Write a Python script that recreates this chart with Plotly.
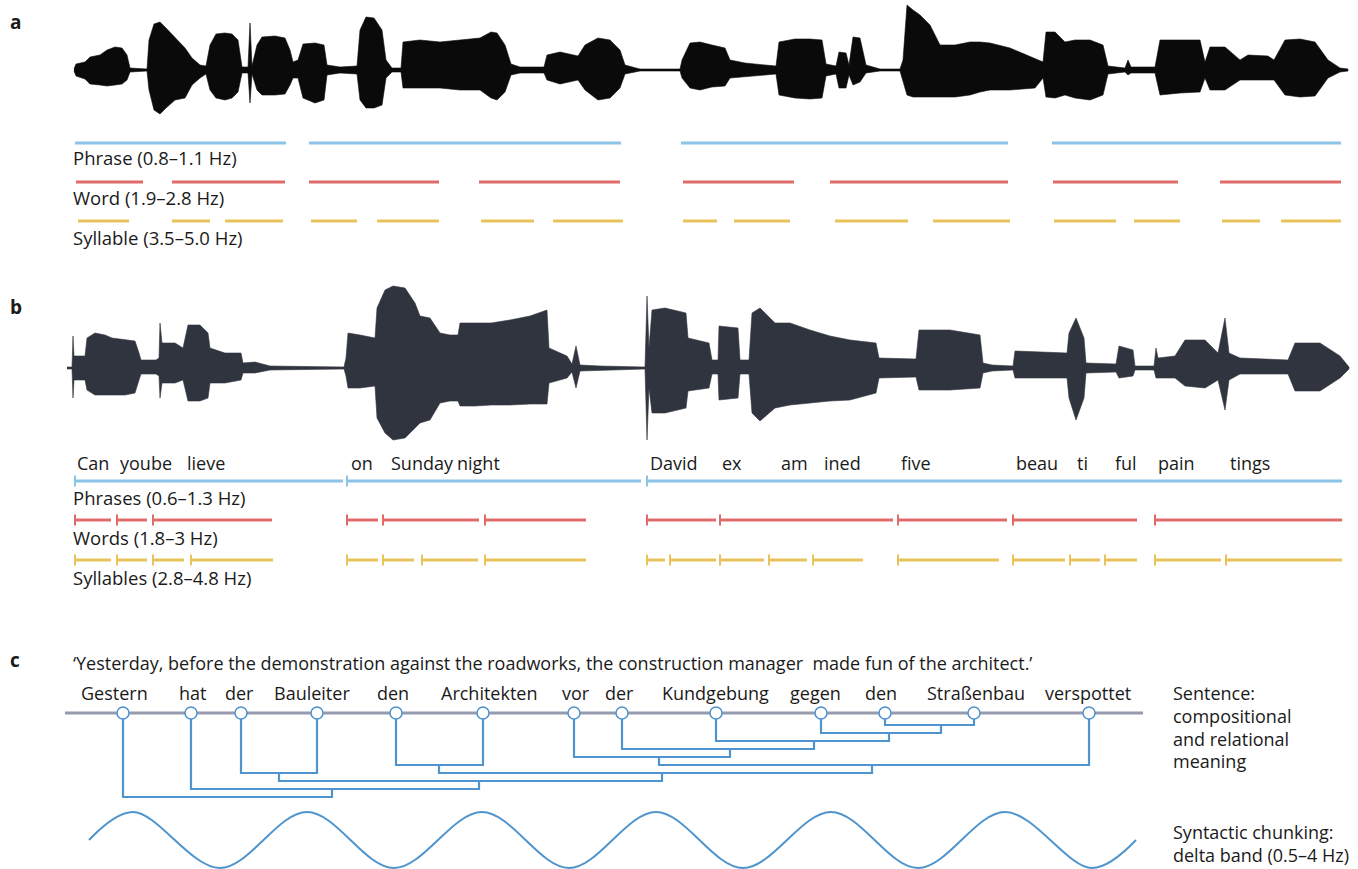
import plotly.graph_objects as go

W, H = 1358, 869
FONT = "Open Sans"
TXT = "#1a1a1a"
BLUE = "#8cc4e8"
RED = "#e06b6b"
YELLOW = "#e8c25a"
TREE = "#4f94cd"
NODE_LINE = "#959aae"

# ---------------- panel a: waveform envelope (time ms, upper, lower amplitude) ----------------
a_envelope = [
    (-4, 1, 1), (4, 6, 6), (40, 8, 9), (60, 13, 14), (100, 15, 15), (128, 20, 16), (160, 23, 15),
    (188, 22, 14), (208, 15, 10), (220, 2, 2), (288, 1, 1), (296, 30, 20), (316, 46, 40),
    (340, 48, 44), (364, 42, 38), (400, 32, 30), (440, 22, 28), (468, 12, 15), (500, 5, 8),
    (524, 4, 4), (540, 25, 20), (564, 36, 28), (600, 37, 30), (628, 36, 28), (652, 30, 22),
    (668, 3, 3), (692, 3, 3), (700, 47, 33), (708, 4, 4), (728, 25, 20), (748, 33, 25),
    (800, 34, 25), (840, 32, 24), (860, 20, 15), (872, 8, 8), (892, 10, 8), (912, 26, 28),
    (960, 27, 33), (996, 25, 30), (1008, 5, 5), (1060, 3, 3), (1128, 4, 4), (1140, 40, 30),
    (1164, 53, 38), (1196, 52, 38), (1228, 40, 35), (1244, 10, 8), (1268, 2, 2), (1304, 2, 2),
    (1312, 28, 18), (1380, 30, 18), (1460, 28, 18), (1540, 30, 20), (1620, 32, 20),
    (1664, 38, 28), (1688, 37, 30), (1720, 25, 22), (1744, 6, 5), (1780, 3, 3), (1876, 3, 3),
    (1888, 15, 10), (1940, 18, 14), (2012, 14, 10), (2040, 25, 20), (2092, 32, 30),
    (2140, 30, 28), (2180, 20, 18), (2200, 5, 4), (2244, 2, 2), (2260, 1, 1), (2420, 1, 1),
    (2428, 10, 8), (2460, 27, 18), (2500, 28, 20), (2548, 25, 17), (2600, 22, 16),
    (2620, 10, 8), (2680, 7, 7), (2760, 5, 5), (2804, 4, 4), (2816, 28, 25), (2880, 31, 28),
    (2940, 31, 29), (2988, 30, 28), (3004, 6, 6), (3044, 4, 4), (3056, 18, 18), (3084, 17, 18),
    (3096, 5, 5), (3112, 33, 15), (3140, 32, 12), (3164, 5, 3), (3220, 1, 1), (3300, 1, 1),
    (3312, 10, 10), (3328, 65, 25), (3352, 60, 27), (3380, 55, 27), (3420, 45, 27),
    (3460, 25, 27), (3520, 25, 27), (3580, 28, 25), (3620, 28, 22), (3660, 27, 20),
    (3740, 22, 20), (3840, 12, 18), (3872, 8, 8), (3884, 38, 27), (3920, 38, 28),
    (3960, 28, 25), (4000, 30, 28), (4060, 30, 30), (4112, 25, 25), (4132, 4, 4), (4200, 2, 2),
    (4212, 10, 5), (4224, 3, 3), (4320, 3, 3), (4340, 30, 25), (4420, 30, 23), (4500, 30, 22),
    (4520, 8, 8), (4540, 23, 20), (4600, 23, 20), (4660, 10, 10), (4692, 15, 10),
    (4772, 14, 10), (4796, 10, 10), (4840, 30, 25), (4900, 31, 27), (4960, 28, 26),
    (5012, 10, 8), (5060, 2, 2), (5092, 1, 1),
]

# segment boundaries (ms)
a_phrase = [(0, 844), (936, 2184), (2424, 3732), (3908, 5064)]
a_word = [(4, 272), (388, 840), (936, 1456), (1616, 2180), (2432, 2876), (3020, 3732),
          (3912, 4412), (4580, 5064)]
a_syllable = [(12, 216), (388, 540), (600, 832), (944, 1128), (1208, 1456), (1624, 1836),
              (1912, 2192), (2432, 2568), (2636, 2860), (3040, 3332), (3432, 3740),
              (3916, 4164), (4236, 4420), (4588, 4740), (4824, 5064)]
a_labels = ["Phrase (0.8–1.1 Hz)", "Word (1.9–2.8 Hz)", "Syllable (3.5–5.0 Hz)"]

# ---------------- panel b ----------------
b_envelope = [
    (0, 1, 1), (20, 1, 1), (24, 32, 30), (28, 12, 12), (72, 12, 12), (80, 30, 22), (112, 35, 27),
    (152, 33, 27), (180, 30, 27), (232, 28, 27), (272, 27, 25), (288, 15, 12), (296, 8, 6),
    (356, 8, 6), (368, 10, 8), (372, 45, 30), (380, 25, 15), (432, 25, 15), (464, 20, 12),
    (484, 43, 33), (532, 43, 33), (564, 35, 30), (572, 20, 15), (632, 15, 15), (696, 15, 12),
    (704, 5, 5), (752, 6, 5), (812, 2, 2), (1108, 1, 1), (1116, 10, 8), (1124, 35, 20),
    (1172, 33, 20), (1232, 30, 18), (1240, 60, 50), (1272, 78, 65), (1304, 82, 72),
    (1352, 80, 70), (1392, 65, 60), (1412, 52, 55), (1452, 50, 52), (1492, 35, 35),
    (1532, 33, 33), (1564, 33, 33), (1572, 45, 38), (1632, 45, 38), (1696, 45, 37),
    (1772, 48, 37), (1852, 52, 36), (1920, 58, 36), (1928, 20, 15), (2000, 12, 10),
    (2020, 4, 4), (2036, 22, 20), (2052, 3, 3), (2132, 2, 2), (2312, 1, 1), (2320, 72, 72),
    (2328, 20, 20), (2340, 58, 45), (2392, 60, 45), (2476, 55, 40), (2484, 30, 23),
    (2568, 25, 20), (2580, 8, 6), (2604, 8, 6), (2608, 42, 32), (2684, 40, 30), (2692, 8, 6),
    (2728, 8, 6), (2740, 55, 45), (2772, 60, 53), (2832, 45, 40), (2892, 45, 37),
    (2972, 38, 35), (3052, 32, 33), (3132, 28, 32), (3236, 25, 25), (3248, 10, 10),
    (3396, 9, 9), (3408, 38, 22), (3532, 38, 22), (3652, 33, 20), (3664, 5, 5), (3700, 3, 3),
    (3784, 2, 2), (3792, 17, 10), (4000, 15, 10), (4008, 35, 30), (4036, 50, 52),
    (4068, 30, 30), (4076, 5, 5), (4196, 4, 4), (4208, 22, 10), (4264, 18, 8), (4272, 2, 2),
    (4348, 2, 2), (4356, 20, 10), (4364, 10, 10), (4432, 12, 10), (4472, 28, 18),
    (4552, 28, 20), (4604, 15, 12), (4632, 50, 42), (4648, 15, 12), (4692, 10, 6),
    (4884, 8, 6), (4912, 25, 23), (5012, 25, 23), (5092, 12, 10), (5128, 1, 1),
]

b_phrase = [(32, 1104), (1120, 2296), (2320, 5100)]
b_word = [(32, 176), (200, 320), (344, 820), (1120, 1244), (1264, 1648), (1672, 2076),
          (2320, 2596), (2612, 3304), (3324, 3760), (3784, 4280), (4352, 5100)]
b_syllable = [(32, 176), (200, 320), (344, 468), (496, 824), (1120, 1244), (1264, 1388),
              (1420, 1644), (1672, 2076), (2320, 2392), (2412, 2596), (2612, 2788),
              (2808, 2960), (2984, 3184), (3324, 3728), (3784, 3992), (4012, 4132),
              (4152, 4280), (4352, 4616), (4636, 5100)]
b_labels = ["Phrases (0.6–1.3 Hz)", "Words (1.8–3 Hz)", "Syllables (2.8–4.8 Hz)"]
b_tokens = ["Can", "yoube", "lieve", "on", "Sunday", "night", "David", "ex", "am", "ined",
            "five", "beau", "ti", "ful", "pain", "tings"]
b_token_t = [32, 204, 472, 1128, 1288, 1552, 2324, 2612, 2848, 3020, 3328, 3788, 4032,
             4184, 4356, 4644]

# ---------------- panel c: dependency structure ----------------
c_sentence = "‘Yesterday, before the demonstration against the roadworks, the construction manager  made fun of the architect.’"
c_words = ["Gestern", "hat", "der", "Bauleiter", "den", "Architekten", "vor", "der",
           "Kundgebung", "gegen", "den", "Straßenbau", "verspottet"]
c_word_center = [114, 192, 239, 312, 393, 489, 576, 619, 715, 815, 881, 976, 1088]
c_node_x = [123, 191, 241, 317, 396, 483, 574, 622, 716, 821, 885, 974, 1089]
# constituents: (left child, right child) -> ints are words, strings are constituents
c_pairs = {
    "B1": (10, 11), "B2": (9, "B1"), "B3": (8, "B2"), "B4": (7, "B3"), "B5": (6, "B4"),
    "B6": ("B5", 12), "B7": (4, 5), "B8": ("B7", "B6"), "B9": (2, 3), "B10": ("B9", "B8"),
    "B11": (1, "B10"), "B12": (0, "B11"),
}
c_level = {"B1": 1, "B2": 2, "B3": 3, "B4": 4, "B5": 5, "B6": 6, "B7": 6, "B8": 7, "B9": 7,
           "B10": 8, "B11": 9, "B12": 10}
c_stem_x = {"B1": 941, "B2": 889, "B3": 814, "B4": 730, "B5": 659, "B6": 872, "B7": 439,
            "B8": 662, "B9": 279, "B10": 479, "B11": 332, "B12": None}
# delta-band oscillation: start, crests/troughs, end
wave_x = [89, 133, 220, 307, 394, 482, 569, 656, 743, 831, 918, 1005, 1092, 1136]
wave_y = [0, 1, -1, 1, -1, 1, -1, 1, -1, 1, -1, 1, -1, 0]

fig = go.Figure()


def envelope_trace(env, xa, ya, color):
    t = [p[0] for p in env]
    up = [p[1] for p in env]
    lo = [-p[2] for p in env]
    return go.Scatter(x=t + t[::-1], y=up + lo[::-1], fill="toself", fillcolor=color,
                      mode="lines", line=dict(color=color, width=0.6),
                      xaxis=xa, yaxis=ya, hoverinfo="skip", showlegend=False)


def segment_trace(pairs, row_y, color, xa, ticks=False):
    xs, ys = [], []
    for s, e in pairs:
        xs += [s, e, None]
        ys += [row_y, row_y, None]
    traces = [go.Scatter(x=xs, y=ys, mode="lines", line=dict(color=color, width=3),
                         xaxis=xa, yaxis="y3", hoverinfo="skip", showlegend=False)]
    if ticks:
        traces.append(go.Scatter(x=[s for s, _ in pairs], y=[row_y] * len(pairs),
                                 mode="markers",
                                 marker=dict(symbol="line-ns", size=8,
                                             line=dict(color=color, width=2)),
                                 xaxis=xa, yaxis="y3", hoverinfo="skip", showlegend=False))
    return traces


# panel a
fig.add_trace(envelope_trace(a_envelope, "x", "y", "#0a0a0a"))
rows_a = [143, 182, 221]
for pairs, ry, col in zip([a_phrase, a_word, a_syllable], rows_a, [BLUE, RED, YELLOW]):
    for tr in segment_trace(pairs, ry, col, "x"):
        fig.add_trace(tr)

# panel b
fig.add_trace(envelope_trace(b_envelope, "x2", "y2", "#30343e"))
rows_b = [481, 520, 560]
for pairs, ry, col in zip([b_phrase, b_word, b_syllable], rows_b, [BLUE, RED, YELLOW]):
    for tr in segment_trace(pairs, ry, col, "x2", ticks=True):
        fig.add_trace(tr)

# panel c: baseline through the words
fig.add_trace(go.Scatter(x=[65, 1143], y=[-0.5, -0.5], mode="lines",
                         line=dict(color=NODE_LINE, width=3), xaxis="x3", yaxis="y4",
                         hoverinfo="skip", showlegend=False))


def child_pos(ref):
    if isinstance(ref, int):
        return c_node_x[ref], -0.5
    return c_stem_x[ref], c_level[ref]


tx, ty = [], []
for name, (l, r) in c_pairs.items():
    lv = c_level[name]
    lx, ly = child_pos(l)
    rx, ry = child_pos(r)
    tx += [lx, lx, rx, rx, None]
    ty += [ly, lv, lv, ry, None]
fig.add_trace(go.Scatter(x=tx, y=ty, mode="lines", line=dict(color=TREE, width=2.2),
                         xaxis="x3", yaxis="y4", hoverinfo="skip", showlegend=False))
fig.add_trace(go.Scatter(x=c_node_x, y=[-0.5] * len(c_node_x), mode="markers",
                         marker=dict(size=12, color="white", line=dict(color=TREE, width=1.5)),
                         xaxis="x3", yaxis="y4", hoverinfo="skip", showlegend=False,
                         cliponaxis=False))
fig.add_trace(go.Scatter(x=wave_x, y=wave_y, mode="lines",
                         line=dict(color=TREE, width=2, shape="spline", smoothing=1.0),
                         xaxis="x3", yaxis="y5", hoverinfo="skip", showlegend=False))

ann = []


def text(x, y, s, xref="x3", size=18, anchor="left", bold=False):
    ann.append(dict(x=x, y=y, xref=xref, yref="y3", text=f"<b>{s}</b>" if bold else s,
                    showarrow=False, xanchor=anchor, yanchor="middle",
                    font=dict(family=FONT, size=size, color=TXT)))


for s, y in zip(["a", "b", "c"], [22, 307, 660]):
    text(8, y, s, size=19, bold=True)
for s, y in zip(a_labels, [157, 197, 237]):
    text(71, y, s, size=18.5)
for s, y in zip(b_labels, [497, 537, 577]):
    text(71, y, s, size=18.5)
for s, t in zip(b_tokens, b_token_t):
    text(t, 463, s, xref="x2")
text(71, 663, c_sentence)
for s, x in zip(c_words, c_word_center):
    text(x, 693, s, anchor="center")
for s, y in zip(["Sentence:", "compositional", "and relational", "meaning"],
                [693, 716, 739, 761]):
    text(1171, y, s)
for s, y in zip(["Syntactic chunking:", "delta band (0.5–4 Hz)"], [832, 855]):
    text(1171, y, s)

hid = dict(visible=False, fixedrange=True)
fig.update_layout(
    width=W, height=H, margin=dict(l=0, r=0, t=0, b=0), autosize=False,
    paper_bgcolor="white", plot_bgcolor="rgba(0,0,0,0)", showlegend=False,
    xaxis=dict(domain=[0, 1], range=[-300, 5132], anchor="y", **hid),
    yaxis=dict(domain=[1 - 140 / H, 1 - 2 / H], range=[-70, 68], anchor="x", **hid),
    xaxis2=dict(domain=[0, 1], range=[-268, 5164], anchor="y2", **hid),
    yaxis2=dict(domain=[1 - 455 / H, 1 - 280 / H], range=[-87, 88], anchor="x2", **hid),
    xaxis3=dict(domain=[0, 1], range=[0, W], anchor="y3", **hid),
    yaxis3=dict(domain=[0, 1], range=[H, 0], anchor="x3", **hid),
    yaxis4=dict(domain=[1 - 810 / H, 1 - 700 / H], range=[11.625, -2.125], anchor="x3", **hid),
    yaxis5=dict(domain=[0, 1 - 800 / H], range=[-1.0357, 1.4286], anchor="x3", **hid),
    annotations=ann,
)

fig.write_html("out.html")
